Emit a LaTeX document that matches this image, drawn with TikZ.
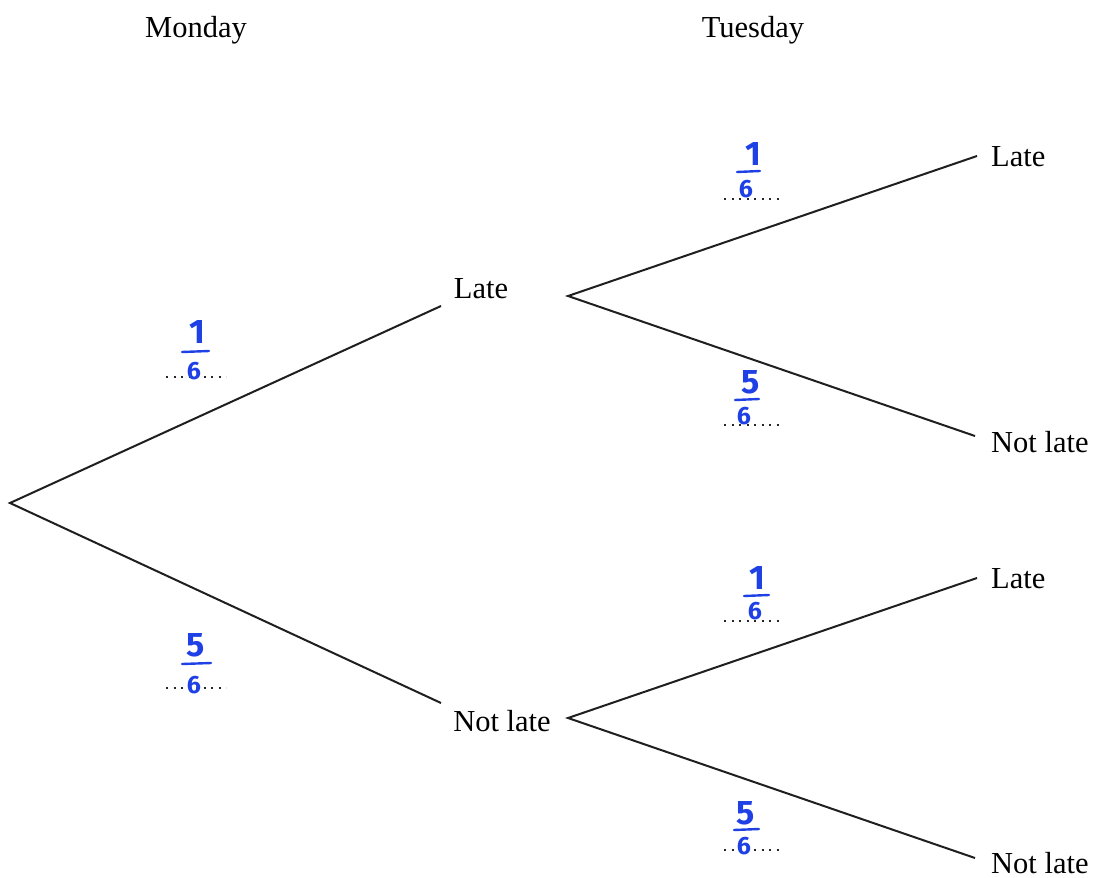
\documentclass[tikz,border=0pt]{standalone}
\usepackage{fontspec}
\setmainfont{Liberation Serif}
\newfontfamily\handfont{Fira Sans}
\definecolor{handblue}{RGB}{30,64,228}
\begin{document}
\begin{tikzpicture}[x=1pt,y=-1pt,
  branch/.style={line width=2pt, black!88},
  lbl/.style={font=\fontsize{30.5}{33}\selectfont, inner sep=0pt},
  numtxt/.style={text=handblue, font=\handfont\bfseries\fontsize{34}{36}\selectfont, inner sep=0pt},
  dentxt/.style={text=handblue, font=\handfont\bfseries\fontsize{25}{27}\selectfont, inner sep=0pt},
  fbar/.style={handblue, line width=2.4pt, line cap=round},
  dotline/.style={line width=2.2pt, dash pattern=on 2.2pt off 5.3pt, black!85}
]
\useasboundingbox (0,0) rectangle (1095,878);

% headings
\node[lbl] (mon) at (196,30) {Monday};
\node[lbl] (tue) at (753,30) {Tuesday};

% outcome labels
\node[lbl] (ml) at (481,289) {Late};
\node[lbl] (mnl) at (502,721) {Not late};
\node[lbl, anchor=west] (ll) at (991,157) {Late};
\node[lbl, anchor=west] (lnl) at (991,442) {Not late};
\node[lbl, anchor=west] (nll) at (991,579) {Late};
\node[lbl, anchor=west] (nlnl) at (991,863) {Not late};

% branch end points
\coordinate (root) at (10,503);
\coordinate (mlin) at (441,306);
\coordinate (mnlin) at (441,703);
\coordinate (mlout) at (568,296);
\coordinate (mnlout) at (568,718);
\coordinate (llin) at (977,156);
\coordinate (lnlin) at (975,436);
\coordinate (nllin) at (977,578);
\coordinate (nlnlin) at (975,858);

\draw[branch] (mlin) -- (root) -- (mnlin);
\draw[branch] (llin) -- (mlout) -- (lnlin);
\draw[branch] (nllin) -- (mnlout) -- (nlnlin);

% fractions: dotted answer line, numerator, bar, denominator
% Monday late
\coordinate (d1a) at (166,377); \coordinate (d1b) at (226,377);
\draw[dotline] (d1a) -- (d1b);
\node[numtxt] (n1) at (197,332) {1};
\coordinate (b1a) at (182,352); \coordinate (b1b) at (209,351);
\draw[fbar] (b1a) -- (b1b);
\node[dentxt] (e1) at (194,371) {6};

% Monday not late
\coordinate (d2a) at (166,688); \coordinate (d2b) at (226,688);
\draw[dotline] (d2a) -- (d2b);
\node[numtxt] (n2) at (196,645) {5};
\coordinate (b2a) at (182,664); \coordinate (b2b) at (211,663);
\draw[fbar] (b2a) -- (b2b);
\node[dentxt] (e2) at (194,685) {6};

% Tuesday L-L
\coordinate (d3a) at (724,199); \coordinate (d3b) at (782,199);
\draw[dotline] (d3a) -- (d3b);
\node[numtxt] (n3) at (753,154) {1};
\coordinate (b3a) at (737,172); \coordinate (b3b) at (760,171);
\draw[fbar] (b3a) -- (b3b);
\node[dentxt] (e3) at (746,189) {6};

% Tuesday L-NL
\coordinate (d4a) at (724,425); \coordinate (d4b) at (782,425);
\draw[dotline] (d4a) -- (d4b);
\node[numtxt] (n4) at (751,382) {5};
\coordinate (b4a) at (735,400); \coordinate (b4b) at (759,399);
\draw[fbar] (b4a) -- (b4b);
\node[dentxt] (e4) at (744,416) {6};

% Tuesday NL-L
\coordinate (d5a) at (724,621); \coordinate (d5b) at (782,621);
\draw[dotline] (d5a) -- (d5b);
\node[numtxt] (n5) at (757,578) {1};
\coordinate (b5a) at (744,596); \coordinate (b5b) at (769,595);
\draw[fbar] (b5a) -- (b5b);
\node[dentxt] (e5) at (755,611) {6};

% Tuesday NL-NL
\coordinate (d6a) at (724,850); \coordinate (d6b) at (782,850);
\draw[dotline] (d6a) -- (d6b);
\node[numtxt] (n6) at (746,813) {5};
\coordinate (b6a) at (734,830); \coordinate (b6b) at (759,829);
\draw[fbar] (b6a) -- (b6b);
\node[dentxt] (e6) at (744,846) {6};
\end{tikzpicture}
\end{document}
